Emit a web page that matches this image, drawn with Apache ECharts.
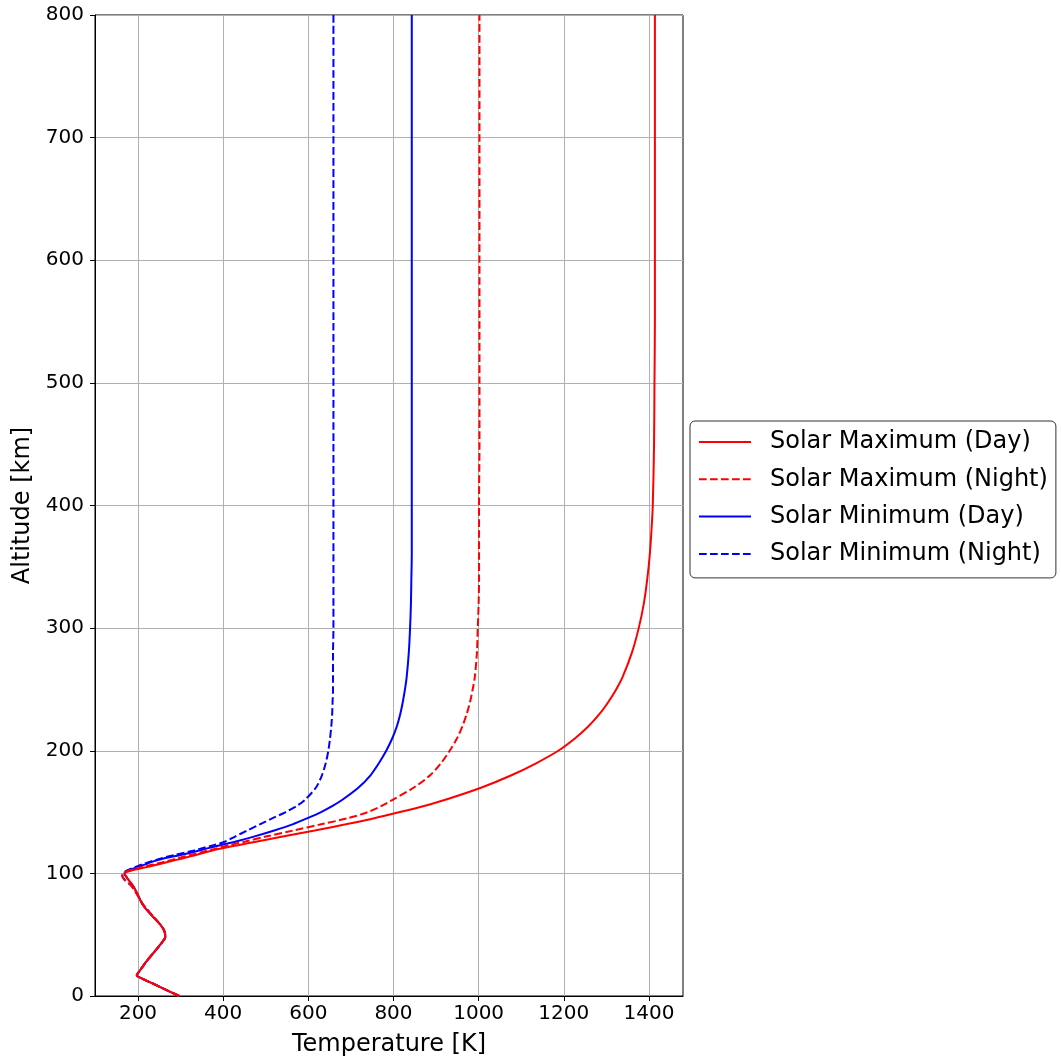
<!DOCTYPE html>
<html>
<head>
<meta charset="utf-8">
<script src="https://cdn.jsdelivr.net/npm/echarts@6/dist/echarts.min.js"></script>
<style>
  html, body { margin: 0; padding: 0; background: #fff; }
  #chart { width: 1061px; height: 1062px; }
</style>
</head>
<body>
<div id="chart"></div>
<script>
// Altitude grid [km] shared by all four profiles
const altitude = [0,5,10,15,17,20,25,30,35,40,45,48,50,55,60,65,70,75,80,85,
  90,95,98,100,102,104,106,108,110,112,115,118,120,123,126,130,135,140,145,150,
  155,160,170,180,190,200,210,220,230,240,250,260,280,300,320,340,360,380,400,450,
  500,550,600,650,700,750,800];

// Temperatures [K], one value per altitude above
const solarMaxDay = [297,266,236,205,197,203,213,224,236,248,259,264,264,259,248,234,221,210,203,196,
  188,177,171,168,181,205,232,256,279,302,336,368,392,435,480,540,615,688,755,815,
  872,922,1007,1077,1136,1187,1226,1258,1284,1305,1323,1338,1360,1376,1388,1396,1402,1406,1409,1412,
  1413,1414,1414,1414,1414,1414,1414];

const solarMaxNight = [297,266,236,205,197,203,213,224,236,248,259,264,264,259,248,235,223,211,203,194,
  184,168,163,166,176,195,220,245,268,290,323,357,380,414,452,500,565,630,693,740,
  772,798,848,886,912,932,949,962,972,980,986,991,996,998,1000,1001,1001,1001,1001,1002,
  1002,1002,1002,1002,1002,1002,1002];

const solarMinDay = [297,266,236,205,197,203,213,224,236,248,259,264,264,259,248,234,221,210,203,196,
  188,177,171,168,175,190,207,222,238,258,300,337,358,393,430,472,520,563,598,630,
  657,680,718,746,766,783,797,808,816,822,827,831,836,839,841,842,843,843,843,843,
  843,843,843,843,843,843,843];

const solarMinNight = [297,266,236,205,197,203,213,224,236,248,259,264,264,259,248,235,223,211,203,194,
  184,168,163,166,172,185,200,215,232,252,285,323,345,377,405,428,457,486,516,547,
  573,592,618,632,641,647,651,654,656,657,658,658,658,659,659,659,659,659,659,659,
  659,659,659,659,659,659,659];

const tempTicks = [200,400,600,800,1000,1200,1400];
const seriesNames = ['Solar Maximum (Day)','Solar Maximum (Night)','Solar Minimum (Day)','Solar Minimum (Night)'];

function pairs(temps) { return temps.map((t, i) => [t, altitude[i]]); }

const FONT = 'DejaVu Sans';
const dashed = [7.7, 3.3];

const chart = echarts.init(document.getElementById('chart'), null, { renderer: 'canvas' });
chart.setOption({
  animation: false,
  backgroundColor: '#ffffff',
  grid: { left: 95, right: 378, top: 15, bottom: 65, show: true,
          borderColor: '#000', borderWidth: 1, backgroundColor: 'transparent' },
  xAxis: {
    type: 'value', min: 99, max: 1480, splitNumber: 7,
    name: 'Temperature [K]', nameLocation: 'middle', nameGap: 37,
    nameTextStyle: { fontSize: 24, fontFamily: FONT, color: '#000' },
    axisLine: { show: true, lineStyle: { color: '#000', width: 1 } },
    axisTick: { show: true, length: 5, lineStyle: { color: '#000' }, customValues: tempTicks },
    axisLabel: { fontSize: 20, fontFamily: FONT, color: '#000', margin: 8, customValues: tempTicks,
                 formatter: v => String(v) },
    splitLine: { show: true, lineStyle: { color: '#b0b0b0', width: 1 } }
  },
  yAxis: {
    type: 'value', min: 0, max: 800, interval: 100,
    name: 'Altitude [km]', nameLocation: 'middle', nameGap: 58, nameRotate: 90,
    nameTextStyle: { fontSize: 24, fontFamily: FONT, color: '#000' },
    axisLine: { show: true, lineStyle: { color: '#000', width: 1 } },
    axisTick: { show: true, length: 5, lineStyle: { color: '#000' } },
    axisLabel: { fontSize: 20, fontFamily: FONT, color: '#000', margin: 11, formatter: v => String(v) },
    splitLine: { show: true, lineStyle: { color: '#b0b0b0', width: 1 } }
  },
  legend: {
    orient: 'vertical', left: 690, top: 421,
    padding: [9, 8, 12, 8],
    itemWidth: 52, itemHeight: 24, itemGap: 13.3,
    borderColor: '#333', borderWidth: 1, borderRadius: 5, backgroundColor: '#fff',
    itemStyle: { opacity: 0 },
    textStyle: { fontSize: 24, fontFamily: FONT, color: '#000', padding: [0, 0, 0, 14] },
    data: seriesNames
  },
  series: [
    { name: seriesNames[3], type: 'line', data: pairs(solarMinNight), symbol: 'none', smooth: 0.3,
      lineStyle: { color: '#0000ff', width: 2, type: dashed }, itemStyle: { color: '#0000ff' } },
    { name: seriesNames[2], type: 'line', data: pairs(solarMinDay), symbol: 'none', smooth: 0.3,
      lineStyle: { color: '#0000ff', width: 2 }, itemStyle: { color: '#0000ff' } },
    { name: seriesNames[1], type: 'line', data: pairs(solarMaxNight), symbol: 'none', smooth: 0.3,
      lineStyle: { color: '#ff0000', width: 2, type: dashed }, itemStyle: { color: '#ff0000' } },
    { name: seriesNames[0], type: 'line', data: pairs(solarMaxDay), symbol: 'none', smooth: 0.3,
      lineStyle: { color: '#ff0000', width: 2 }, itemStyle: { color: '#ff0000' } }
  ]
});
</script>
</body>
</html>
